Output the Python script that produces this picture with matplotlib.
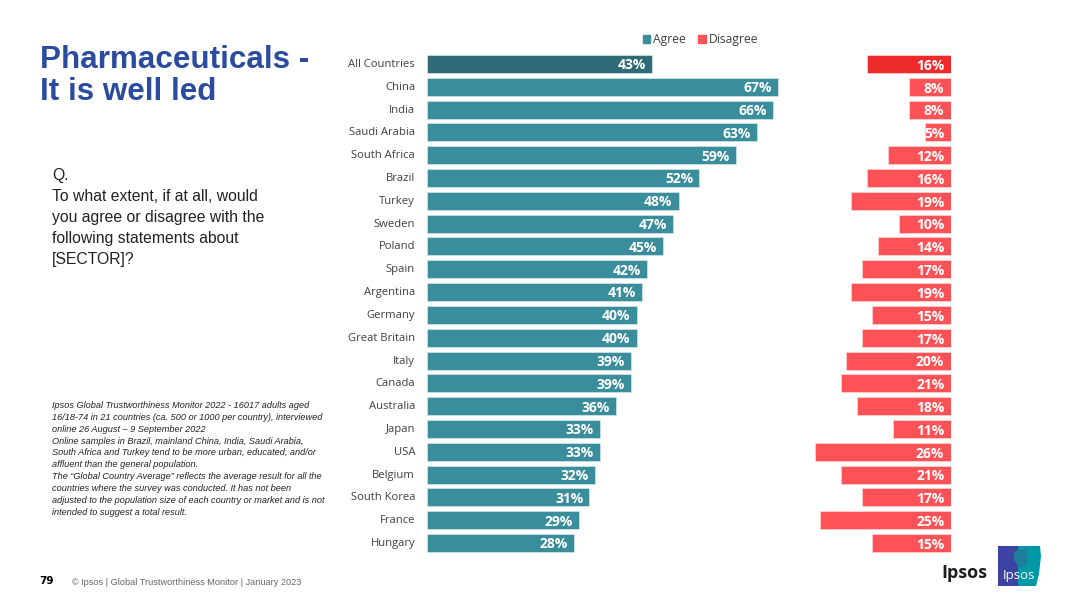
import matplotlib
matplotlib.use("Agg")
import matplotlib.pyplot as plt
from matplotlib.patches import Patch, Rectangle, Polygon
from matplotlib.transforms import ScaledTranslation

# --------------------------------------
# Data
# --------------------------------------
countries = ["All Countries", "China", "India", "Saudi Arabia", "South Africa", "Brazil",
             "Turkey", "Sweden", "Poland", "Spain", "Argentina", "Germany", "Great Britain",
             "Italy", "Canada", "Australia", "Japan", "USA", "Belgium", "South Korea",
             "France", "Hungary"]
agree = [43, 67, 66, 63, 59, 52, 48, 47, 45, 42, 41, 40, 40, 39, 39, 36, 33, 33, 32, 31, 29, 28]
disagree = [16, 8, 8, 5, 12, 16, 19, 10, 14, 17, 19, 15, 17, 20, 21, 18, 11, 26, 21, 17, 25, 15]

title_lines = "Pharmaceuticals -\nIt is well led"
question = ("Q.\nTo what extent, if at all, would\nyou agree or disagree with the\n"
            "following statements about\n[SECTOR]?")
note = ("Ipsos Global Trustworthiness Monitor 2022 - 16017 adults aged\n"
        "16/18-74 in 21 countries (ca. 500 or 1000 per country), interviewed\n"
        "online 26 August \u2013 9 September 2022\n"
        "Online samples in Brazil, mainland China, India, Saudi Arabia,\n"
        "South Africa and Turkey tend to be more urban, educated, and/or\n"
        "affluent than the general population.\n"
        "The \u201cGlobal Country Average\u201d reflects the average result for all the\n"
        "countries where the survey was conducted. It has not been\n"
        "adjusted to the population size of each country or market and is not\n"
        "intended to suggest a total result.")

W, H = 1080, 607
TEAL, TEAL_DARK = "#3A8E9C", "#2E6B76"
RED, RED_DARK = "#FF5257", "#EE2A2A"
LABEL_FONT = "Open Sans"
TEXT_FONT = "Liberation Sans"


def fx(px):
    return px / W


def fy(py):
    return 1 - py / H


fig = plt.figure(figsize=(W / 100, H / 100), dpi=100, facecolor="white")

# Axes spans 427..951 px, which is 100 % at the scale of the reference bars
top, bottom = 52.6, 554.4
ax = fig.add_axes([fx(427), fy(bottom), fx(951 - 427), (bottom - top) / H])
y = list(range(len(countries)))
ax.set_xlim(0, 100)
ax.set_ylim(len(countries) - 0.5, -0.5)

agree_colors = [TEAL_DARK] + [TEAL] * (len(agree) - 1)
disagree_colors = [RED_DARK] + [RED] * (len(disagree) - 1)
ax.barh(y, agree, height=0.79, color=agree_colors, edgecolor="#D5E6E9", linewidth=0.5)
ax.barh(y, disagree, left=[100 - d for d in disagree], height=0.79,
        color=disagree_colors, edgecolor="#FFD5D6", linewidth=0.5)

for i, (a, d) in enumerate(zip(agree, disagree)):
    ax.text(a - 1.2, i + 0.06, f"{a}%", ha="right", va="center", color="white",
            fontsize=10, fontweight="bold", family=LABEL_FONT)
    ax.text(98.7, i + 0.08, f"{d}%", ha="right", va="center", color="white",
            fontsize=10, fontweight="bold", family=LABEL_FONT)

ax.set_yticks(y)
ax.set_yticklabels(countries, fontsize=8.1, color="#404040", family=LABEL_FONT)
ax.tick_params(axis="y", length=0, pad=8.6)
for lab in ax.get_yticklabels():
    lab.set_transform(lab.get_transform() + ScaledTranslation(0, 0.01, fig.dpi_scale_trans))
ax.set_xticks([])
for s in ax.spines.values():
    s.set_visible(False)

handles = [Patch(color=TEAL, label="Agree"), Patch(color=RED, label="Disagree")]
fig.legend(handles=handles, loc="center left", bbox_to_anchor=(fx(632), fy(39.5)), ncol=2,
           frameon=False, handlelength=0.62, handleheight=0.62, handletextpad=0.22,
           columnspacing=1.05, prop={"family": LABEL_FONT, "size": 8.7}, labelcolor="#404040")

# Left text column
fig.text(fx(40), fy(44.5), title_lines, color="#2A4B9F", fontsize=22.6, fontweight="bold",
         family=TEXT_FONT, va="top", linespacing=1.11)
fig.text(fx(52), fy(167.5), question, color="#222222", fontsize=11.3, family=TEXT_FONT,
         va="top", linespacing=1.5)
fig.text(fx(52), fy(401), note, color="#222222", fontsize=6.6, style="italic",
         family=TEXT_FONT, va="top", linespacing=1.41)
fig.text(fx(39), fy(581), "79", color="black", fontsize=7.5, fontweight="bold",
         family="DejaVu Sans", va="center")
fig.text(fx(72), fy(582.5), "\u00a9 Ipsos | Global Trustworthiness Monitor | January 2023",
         color="#666666", fontsize=6.56, family=TEXT_FONT, va="center")

# Logo
fig.text(fx(941), fy(573.5), "Ipsos", color="#1E1E1E", fontsize=13, fontweight="bold",
         family=LABEL_FONT, va="center")
fig.add_artist(Rectangle((fx(998), fy(586)), fx(20), 40 / H, transform=fig.transFigure,
                         facecolor="#3D43A3", edgecolor="none"))
fig.add_artist(Polygon([(fx(1018), fy(546)), (fx(1040), fy(546)), (fx(1041), fy(556)),
                        (fx(1039), fy(574)), (fx(1036), fy(586)), (fx(1018), fy(586))],
                       transform=fig.transFigure, facecolor="#0097A7", edgecolor="none"))
fig.add_artist(Polygon([(fx(1014), fy(552)), (fx(1020), fy(549)), (fx(1027), fy(549)),
                        (fx(1027), fy(564)), (fx(1020), fy(568)), (fx(1014), fy(560))],
                       transform=fig.transFigure, facecolor="#1F7F9A", edgecolor="none"))
fig.text(fx(1019), fy(576), "Ipsos", color="white", fontsize=9.5, ha="center", va="center",
         family=LABEL_FONT)

fig.savefig("out.png", dpi=100)
